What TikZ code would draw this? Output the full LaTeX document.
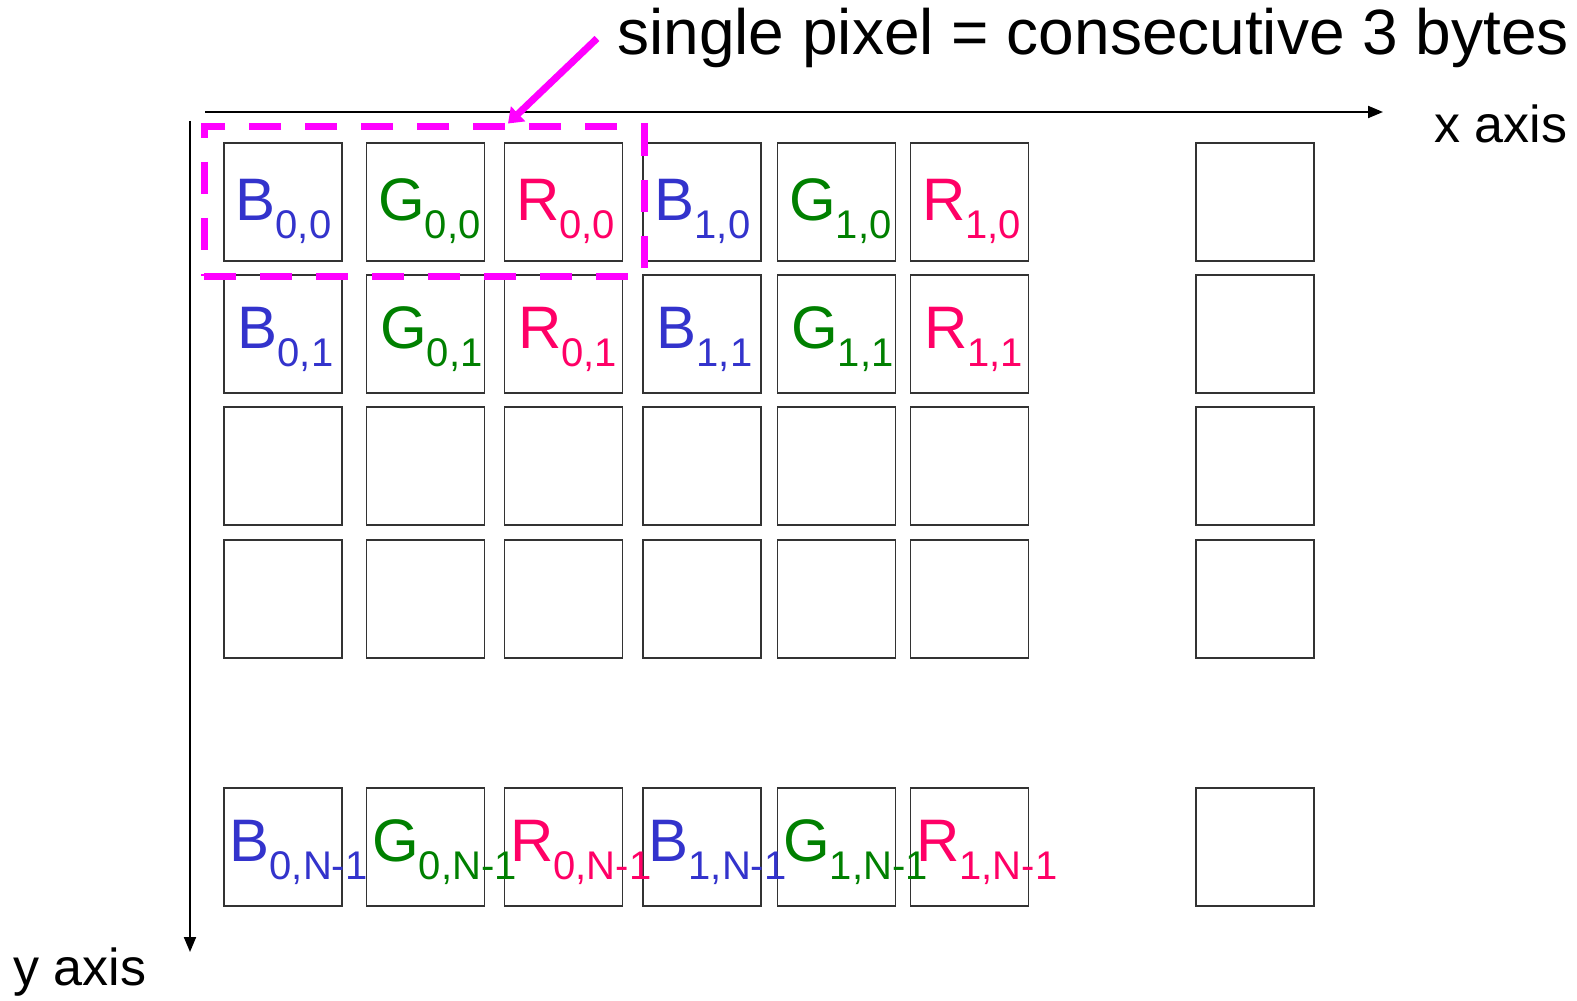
\documentclass[tikz,border=0pt]{standalone}
\usepackage{fontspec}
\setmainfont{Liberation Sans}
\usepackage{xcolor}
\usepackage{tikz}
\usetikzlibrary{positioning, arrows.meta, calc}
\definecolor{byteBlue}{HTML}{3333CC}
\definecolor{byteGreen}{HTML}{008000}
\definecolor{byteRed}{HTML}{FF0066}
\definecolor{pixelColor}{HTML}{FF00FF}
\newcommand\bytelabel[2]{{\fontsize{30pt}{30pt}\selectfont #1}\raisebox{-9pt}{\fontsize{20pt}{20pt}\selectfont #2}}

\begin{document}
\begin{tikzpicture}[
  x=0.5pt, y=-0.5pt,
  cellbox/.style={
    rectangle,
    draw=black!80,
    line width=0.7pt,
    minimum width=59pt,
    minimum height=59pt,
    inner sep=0pt
  },
  cellabel/.style={
    anchor=base west,
    inner sep=0pt
  },
  pixbox/.style={
    rectangle,
    draw=pixelColor,
    line width=3.5pt,
    dash pattern=on 16pt off 12pt,
    minimum width=220pt,
    minimum height=74.5pt,
    inner sep=0pt
  },
  axis/.style={
    -{Triangle[length=7.5pt,width=6pt]},
    line width=1pt
  },
  callout/.style={
    -{Triangle[length=7pt,width=10pt]},
    draw=pixelColor,
    line width=3.5pt
  }
]
  \useasboundingbox (0,0) rectangle (1577,1000);

  % Define nodes
  \foreach \cx [count=\i] in {283,425.5,563.5,702,836.5,969.5,1255} {
    \foreach \cy [count=\j] in {202,334,466,599,847} {
      \node[cellbox] (c\i-\j) at (\cx,\cy) {};
    }
  }
  \foreach \i/\ch/\col/\n in {1/B/byteBlue/0, 2/G/byteGreen/0, 3/R/byteRed/0,
                               4/B/byteBlue/1, 5/G/byteGreen/1, 6/R/byteRed/1} {
    \node[cellabel, text=\col] (l\i-1) at ([xshift=6pt, yshift=-39pt]c\i-1.north west) {\bytelabel{\ch}{\n,0}};
    \node[cellabel, text=\col] (l\i-2) at ([xshift=7pt, yshift=-37pt]c\i-2.north west) {\bytelabel{\ch}{\n,1}};
    \node[cellabel, text=\col] (l\i-5) at ([xshift=3pt, yshift=-37pt]c\i-5.north west) {\bytelabel{\ch}{\n,N-1}};
  }

  \node[pixbox] (pix) at (424,201.5) {};
  \node[anchor=base west, inner sep=0pt, font=\fontsize{32pt}{32pt}\selectfont] (title) at (617,55) {single pixel = consecutive 3 bytes};
  \node[anchor=base west, inner sep=0pt, font=\fontsize{26pt}{26pt}\selectfont] (xlabel) at (1434,143) {x axis};
  \node[anchor=base west, inner sep=0pt, font=\fontsize{26pt}{26pt}\selectfont] (ylabel) at (13,985) {y axis};
  \coordinate (xstart) at (205,112);
  \coordinate (xend) at (1383,112);
  \coordinate (ystart) at (190,121);
  \coordinate (yend) at (190,952);

  % Connect nodes with arrows
  \draw[axis] (xstart) -- (xend);
  \draw[axis] (ystart) -- (yend);
  \draw[callout] ([xshift=-10pt]title.west) -- ([xshift=42pt]pix.north);
\end{tikzpicture}
\end{document}
